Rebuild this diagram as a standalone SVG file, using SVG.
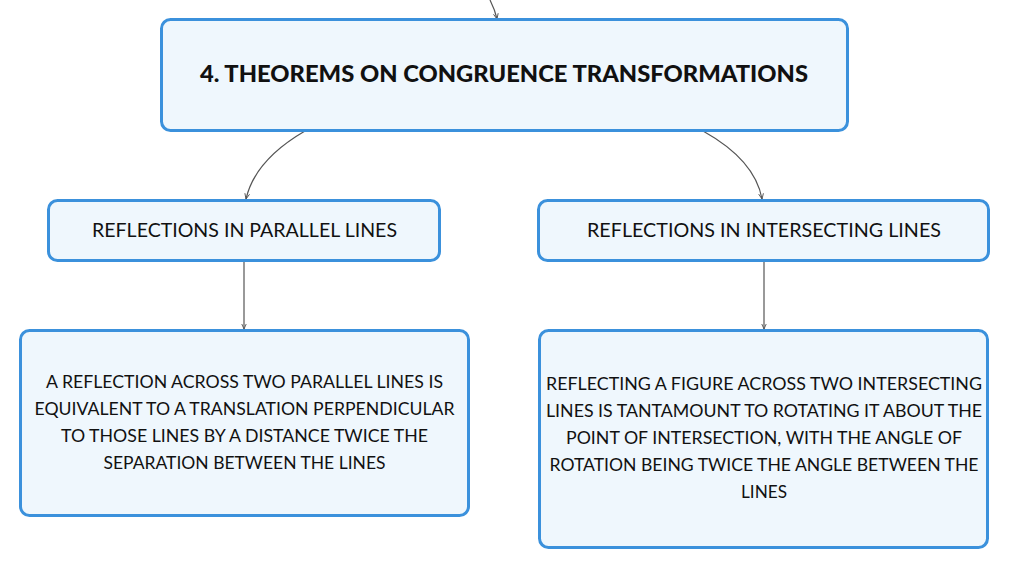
<svg xmlns="http://www.w3.org/2000/svg" width="1009" height="569" viewBox="0 0 1009 569">
<style>
.node{fill:#eff7fd;stroke:#3b91dc;stroke-width:3}
.t{font-family:Lato,"Open Sans","Liberation Sans",sans-serif;fill:#111;text-anchor:middle}
.title{font-size:22.5px;font-weight:900}
.mid{font-size:19.5px}
.body{font-size:17px}
.conn{fill:none;stroke:#555;stroke-width:1.2}
</style>
<defs>
<marker id="arr" viewBox="0 0 10 10" refX="9" refY="5" markerWidth="5" markerHeight="5" orient="auto">
<path d="M0,1 L9,5 L0,9" fill="none" stroke="#555" stroke-width="1.5"/>
</marker>
</defs>
<rect width="1009" height="569" fill="#fff"/>
<g id="connectors">
<path class="conn" d="M490,0 Q495,10 497,19" marker-end="url(#arr)"/>
<path class="conn" d="M305,131 Q255,160 246,199" marker-end="url(#arr)"/>
<path class="conn" d="M703,131 Q755,160 762,199" marker-end="url(#arr)"/>
<path class="conn" d="M244,261 L244,329" marker-end="url(#arr)"/>
<path class="conn" d="M764,261 L764,329" marker-end="url(#arr)"/>
</g>
<g id="node-main">
<rect class="node" x="161.5" y="19.5" width="686" height="111" rx="9"/>
<text class="t title" x="504" y="82" textLength="608" lengthAdjust="spacingAndGlyphs">4. THEOREMS ON CONGRUENCE TRANSFORMATIONS</text>
</g>
<g id="node-parallel">
<rect class="node" x="48.5" y="200.5" width="391" height="60" rx="9"/>
<text class="t mid" x="244.5" y="237" textLength="305" lengthAdjust="spacingAndGlyphs">REFLECTIONS IN PARALLEL LINES</text>
</g>
<g id="node-intersecting">
<rect class="node" x="538.5" y="200.5" width="450" height="60" rx="9"/>
<text class="t mid" x="764" y="237" textLength="354" lengthAdjust="spacingAndGlyphs">REFLECTIONS IN INTERSECTING LINES</text>
</g>
<g id="node-parallel-detail">
<rect class="node" x="20.5" y="330.5" width="448" height="185" rx="9"/>
<text class="t body" x="244.5" y="388" textLength="397" lengthAdjust="spacingAndGlyphs">A REFLECTION ACROSS TWO PARALLEL LINES IS</text>
<text class="t body" x="244.5" y="415" textLength="420" lengthAdjust="spacingAndGlyphs">EQUIVALENT TO A TRANSLATION PERPENDICULAR</text>
<text class="t body" x="244.5" y="442" textLength="367" lengthAdjust="spacingAndGlyphs">TO THOSE LINES BY A DISTANCE TWICE THE</text>
<text class="t body" x="244.5" y="469" textLength="282" lengthAdjust="spacingAndGlyphs">SEPARATION BETWEEN THE LINES</text>
</g>
<g id="node-intersecting-detail">
<rect class="node" x="539.5" y="330.5" width="448" height="217" rx="9"/>
<text class="t body" x="764" y="390" textLength="436" lengthAdjust="spacingAndGlyphs">REFLECTING A FIGURE ACROSS TWO INTERSECTING</text>
<text class="t body" x="764" y="417" textLength="436" lengthAdjust="spacingAndGlyphs">LINES IS TANTAMOUNT TO ROTATING IT ABOUT THE</text>
<text class="t body" x="764" y="444" textLength="396" lengthAdjust="spacingAndGlyphs">POINT OF INTERSECTION, WITH THE ANGLE OF</text>
<text class="t body" x="764" y="471" textLength="429" lengthAdjust="spacingAndGlyphs">ROTATION BEING TWICE THE ANGLE BETWEEN THE</text>
<text class="t body" x="764" y="498" textLength="46" lengthAdjust="spacingAndGlyphs">LINES</text>
</g>
</svg>
